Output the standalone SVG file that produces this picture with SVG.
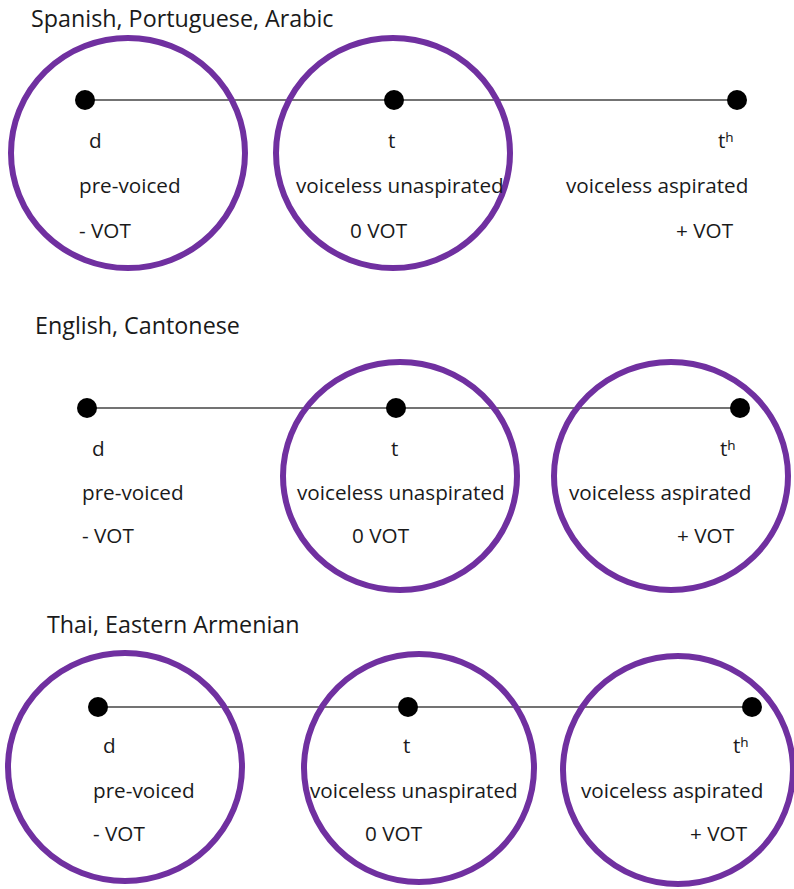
<svg xmlns="http://www.w3.org/2000/svg" width="794" height="889" viewBox="0 0 794 889">
<style>
text{font-family:"Open Sans","Noto Sans","Liberation Sans",sans-serif;font-size:20.7px;fill:#1a1a1a}
.title{font-size:23.3px}
.ring{fill:none;stroke:#7030A0;stroke-width:6}
.dot{fill:#000}
.axis{stroke:#444;stroke-width:1.6}
</style>
<rect width="794" height="889" fill="#fff"/>
<g id="connectors">
<line class="axis" x1="85" y1="100" x2="737" y2="100"/>
<line class="axis" x1="87" y1="408" x2="740" y2="408"/>
<line class="axis" x1="98" y1="707" x2="752" y2="707"/>
</g>
<g id="panel1">
<text class="title" x="31" y="27">Spanish, Portuguese, Arabic</text>
<g id="p1-d"><ellipse class="ring" cx="128" cy="153" rx="117" ry="115"/><circle class="dot" cx="85" cy="100" r="10"/>
<text x="89" y="148">d</text><text x="79" y="193">pre-voiced</text><text x="79" y="238">- VOT</text></g>
<g id="p1-t"><ellipse class="ring" cx="393" cy="153" rx="117" ry="115"/><circle class="dot" cx="394" cy="100" r="10"/>
<text x="388" y="148">t</text><text x="296" y="193">voiceless unaspirated</text><text x="350" y="238">0 VOT</text></g>
<g id="p1-th"><circle class="dot" cx="737" cy="100" r="10"/>
<text x="718" y="148">tʰ</text><text x="566" y="193">voiceless aspirated</text><text x="676" y="238">+ VOT</text></g>
</g>
<g id="panel2">
<text class="title" x="35" y="334">English, Cantonese</text>
<g id="p2-d"><circle class="dot" cx="87" cy="408" r="10"/>
<text x="92" y="456">d</text><text x="82" y="500">pre-voiced</text><text x="82" y="543">- VOT</text></g>
<g id="p2-t"><ellipse class="ring" cx="400" cy="476" rx="117" ry="114"/><circle class="dot" cx="396" cy="408" r="10"/>
<text x="391" y="456">t</text><text x="297" y="500">voiceless unaspirated</text><text x="352" y="543">0 VOT</text></g>
<g id="p2-th"><ellipse class="ring" cx="671" cy="476" rx="117" ry="114"/><circle class="dot" cx="740" cy="408" r="10"/>
<text x="720" y="456">tʰ</text><text x="569" y="500">voiceless aspirated</text><text x="677" y="543">+ VOT</text></g>
</g>
<g id="panel3">
<text class="title" x="47" y="633">Thai, Eastern Armenian</text>
<g id="p3-d"><ellipse class="ring" cx="125" cy="767" rx="117" ry="114"/><circle class="dot" cx="98" cy="707" r="10"/>
<text x="103" y="753">d</text><text x="93" y="798">pre-voiced</text><text x="93" y="841">- VOT</text></g>
<g id="p3-t"><ellipse class="ring" cx="419" cy="768" rx="115" ry="114"/><circle class="dot" cx="408" cy="707" r="10"/>
<text x="403" y="753">t</text><text x="310" y="798">voiceless unaspirated</text><text x="365" y="841">0 VOT</text></g>
<g id="p3-th"><ellipse class="ring" cx="678" cy="770" rx="115" ry="114"/><circle class="dot" cx="752" cy="707" r="10"/>
<text x="733" y="753">tʰ</text><text x="581" y="798">voiceless aspirated</text><text x="690" y="841">+ VOT</text></g>
</g>
</svg>
